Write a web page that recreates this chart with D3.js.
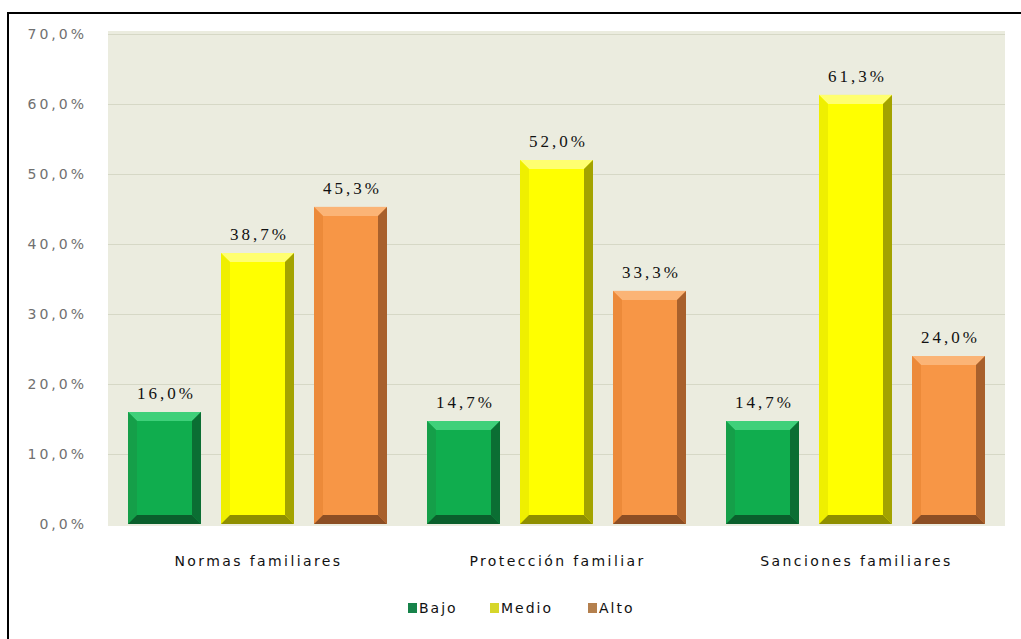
<!DOCTYPE html>
<html>
<head>
<meta charset="utf-8">
<script src="https://cdn.jsdelivr.net/npm/d3@7"></script>
<style>
  html, body { margin: 0; padding: 0; background: #ffffff; }
  svg { display: block; }
</style>
</head>
<body>
<svg id="chart" width="1021" height="639"></svg>
<script>
// ---- data ----
const categories = ["Normas familiares", "Protección familiar", "Sanciones familiares"];
const seriesNames = ["Bajo", "Medio", "Alto"];
const bajo  = [16.0, 14.7, 14.7];
const medio = [38.7, 52.0, 61.3];
const alto  = [45.3, 33.3, 24.0];
const yTicks = [0, 10, 20, 30, 40, 50, 60, 70];

const seriesValues = [bajo, medio, alto];
const palette = {
  Bajo:  { main: "#10ad4e", top: "#3fd07a", left: "#159f49", right: "#0b6e33", bottom: "#0a5f2c", swatch: "#17834a" },
  Medio: { main: "#ffff00", top: "#ffff70", left: "#efef00", right: "#a3a300", bottom: "#8f8f00", swatch: "#d6d62a" },
  Alto:  { main: "#f79646", top: "#fbb476", left: "#ec8a3a", right: "#a8602c", bottom: "#8c4e24", swatch: "#b4804e" }
};

const svg = d3.select("#chart");
const plot = { left: 108, top: 31, right: 1005, bottom: 526 };

// outer frame (only top/left visible in the crop)
svg.append("rect").attr("x", 8).attr("y", 13).attr("width", 1100).attr("height", 700)
  .attr("fill", "#ffffff").attr("stroke", "#000").attr("stroke-width", 2);

// plot area background
svg.append("rect")
  .attr("x", plot.left).attr("y", plot.top)
  .attr("width", plot.right - plot.left).attr("height", plot.bottom - plot.top)
  .attr("fill", "#ebecdf");

const y = d3.scaleLinear().domain([0, 70]).range([524, 34]);
const x0 = d3.scaleBand().domain(categories).range([plot.left, plot.right]).padding(0);
const x1 = d3.scaleBand().domain(seriesNames).range([20, x0.bandwidth() - 20]).paddingInner(0.215).paddingOuter(0);

// gridlines
svg.append("g").selectAll("line").data(yTicks.slice(1)).join("line")
  .attr("x1", plot.left).attr("x2", plot.right)
  .attr("y1", d => Math.round(y(d)) + 0.5).attr("y2", d => Math.round(y(d)) + 0.5)
  .attr("stroke", "#d6d8c6").attr("stroke-width", 1);

// y axis
const yAxis = d3.axisLeft(y).tickValues(yTicks).tickSize(0).tickPadding(0)
  .tickFormat(d => d3.format(".1f")(d).replace(".", ",") + "%");
const ya = svg.append("g").attr("transform", "translate(87,0)").call(yAxis);
ya.select(".domain").remove();
ya.selectAll("text").attr("fill", "#707070").attr("font-family", "DejaVu Sans")
  .attr("font-size", 14).attr("letter-spacing", "3px").attr("dy", "0.32em");

// bars with bevel
const b = 9;
const rows = [];
categories.forEach((c, i) => seriesNames.forEach((s, j) => rows.push({ cat: c, ser: s, v: seriesValues[j][i] })));

const bars = svg.append("g").selectAll("g.bar").data(rows).join("g").attr("class", "bar");
bars.each(function(d) {
  const g = d3.select(this);
  const X = x0(d.cat) + x1(d.ser), W = x1.bandwidth();
  const Y = y(d.v), H = y(0) - y(d.v);
  const p = palette[d.ser];
  g.append("rect").attr("x", X).attr("y", Y).attr("width", W).attr("height", H).attr("fill", p.main);
  const poly = (pts, fill) => g.append("polygon").attr("points", pts.map(q => q.join(",")).join(" ")).attr("fill", fill);
  poly([[X, Y], [X + W, Y], [X + W - b, Y + b], [X + b, Y + b]], p.top);
  poly([[X, Y], [X + b, Y + b], [X + b, Y + H - b], [X, Y + H]], p.left);
  poly([[X + W, Y], [X + W - b, Y + b], [X + W - b, Y + H - b], [X + W, Y + H]], p.right);
  poly([[X, Y + H], [X + b, Y + H - b], [X + W - b, Y + H - b], [X + W, Y + H]], p.bottom);
});

// data labels
svg.append("g").selectAll("text").data(rows).join("text")
  .attr("x", d => x0(d.cat) + x1(d.ser) + x1.bandwidth() / 2 + 2)
  .attr("y", d => y(d.v) - 13)
  .attr("text-anchor", "middle")
  .attr("font-family", "Liberation Serif").attr("font-size", 17).attr("letter-spacing", "3px")
  .attr("fill", "#111")
  .text(d => d3.format(".1f")(d.v).replace(".", ",") + "%");

// category labels
svg.append("g").selectAll("text").data(categories).join("text")
  .attr("x", d => x0(d) + x0.bandwidth() / 2 + 1)
  .attr("y", 566)
  .attr("text-anchor", "middle")
  .attr("font-family", "DejaVu Sans").attr("font-size", 14).attr("letter-spacing", "2.4px")
  .attr("fill", "#111")
  .text(d => d);

// legend
const legendX = [408, 490, 588];
const lg = svg.append("g").selectAll("g").data(seriesNames).join("g")
  .attr("transform", (d, i) => `translate(${legendX[i]},608)`);
lg.append("rect").attr("x", 0).attr("y", -5).attr("width", 9).attr("height", 10)
  .attr("fill", d => palette[d].swatch);
lg.append("text").attr("x", 11).attr("y", 0).attr("dy", "0.35em")
  .attr("font-family", "DejaVu Sans").attr("font-size", 14).attr("letter-spacing", "2px")
  .attr("fill", "#111").text(d => d);
</script>
</body>
</html>
